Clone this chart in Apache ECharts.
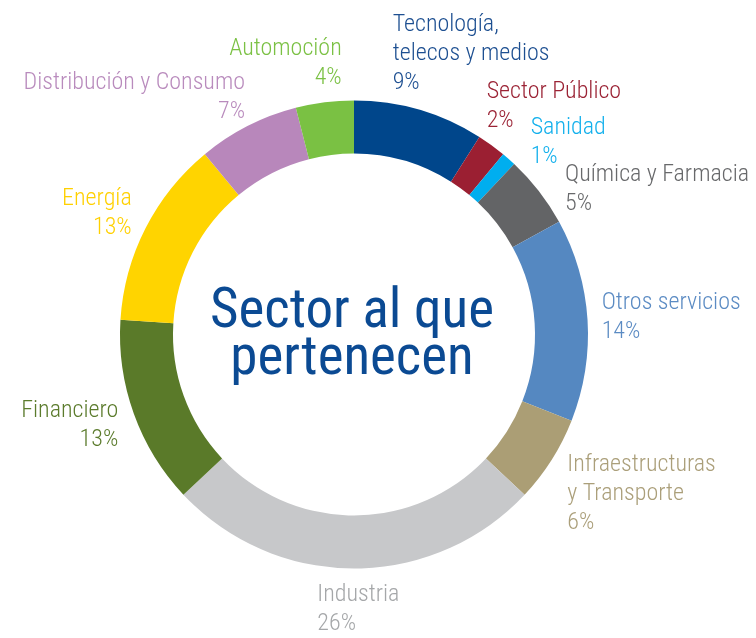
<!DOCTYPE html>
<html>
<head>
<meta charset="utf-8">
<script src="https://cdn.jsdelivr.net/npm/echarts@6/dist/echarts.min.js"></script>
<style>
html,body{margin:0;padding:0;background:#fff;}
#chart{width:756px;height:638px;}
</style>
</head>
<body>
<div id="chart"></div>
<script>
const categories = ["Tecnología,\ntelecos y medios", "Sector Público", "Sanidad", "Química y Farmacia", "Otros servicios", "Infraestructuras\ny Transporte", "Industria", "Financiero", "Energía", "Distribución y Consumo", "Automoción"];
const values = [9, 2, 1, 5, 14, 6, 26, 13, 13, 7, 4];
const centerTitle = "Sector al que\npertenecen";

const sliceColors = ["#00468b", "#9b1f32", "#00aeef", "#636466", "#5588c1", "#ab9e75", "#c7c8ca", "#5a7a29", "#ffd400", "#b887bb", "#7ac143"];
const labelColors = ["#1d4f91", "#9b2335", "#13b0ec", "#68696b", "#5b8bc3", "#ab9f7a", "#a5a7a9", "#5b7b2c", "#ffd000", "#b98bbd", "#7bc144"];
// label anchor: [x, first-line baseline, align]
const labelAnchors = [
  [392.7, 33, "left"], [486.7, 100, "left"], [530.7, 136.7, "left"], [565, 183, "left"],
  [601.7, 311.7, "left"], [567.3, 473.3, "left"], [317.3, 603.3, "left"],
  [118.3, 419, "right"], [131.7, 207.3, "right"], [245, 91.7, "right"], [341.7, 57.3, "right"]
];

const FONT = '"Roboto Condensed", "Open Sans", sans-serif';
const LABEL_SIZE = 24;
const LINE_H = 29;
const BASE_OFF = LINE_H / 2 + 0.35 * LABEL_SIZE;

const chart = echarts.init(document.getElementById('chart'), null, {renderer: 'canvas'});
chart.setOption({
  animation: false,
  backgroundColor: '#fff',
  graphic: [{
    type: 'text',
    x: 352,
    y: 337,
    style: {
      text: centerTitle,
      fill: '#0b4a93',
      font: '400 55px ' + FONT,
      align: 'center',
      verticalAlign: 'middle',
      lineHeight: 47
    }
  }],
  series: [{
    type: 'pie',
    center: [354, 334.5],
    radius: [181, 234],
    startAngle: 90,
    clockwise: true,
    avoidLabelOverlap: false,
    emphasis: {disabled: true},
    labelLine: {show: false},
    label: {
      show: true,
      fontFamily: FONT,
      fontWeight: 300,
      fontSize: LABEL_SIZE,
      lineHeight: LINE_H,
      formatter: p => p.name + '\n' + p.value + '%'
    },
    labelLayout: p => {
      const a = labelAnchors[p.dataIndex];
      return {x: a[0], y: a[1] - BASE_OFF, align: a[2], verticalAlign: 'top', hideOverlap: false, moveOverlap: null};
    },
    data: categories.map((c, i) => ({
      name: c,
      value: values[i],
      itemStyle: {color: sliceColors[i]},
      label: {color: labelColors[i], align: labelAnchors[i][2]}
    }))
  }]
});
</script>
</body>
</html>
